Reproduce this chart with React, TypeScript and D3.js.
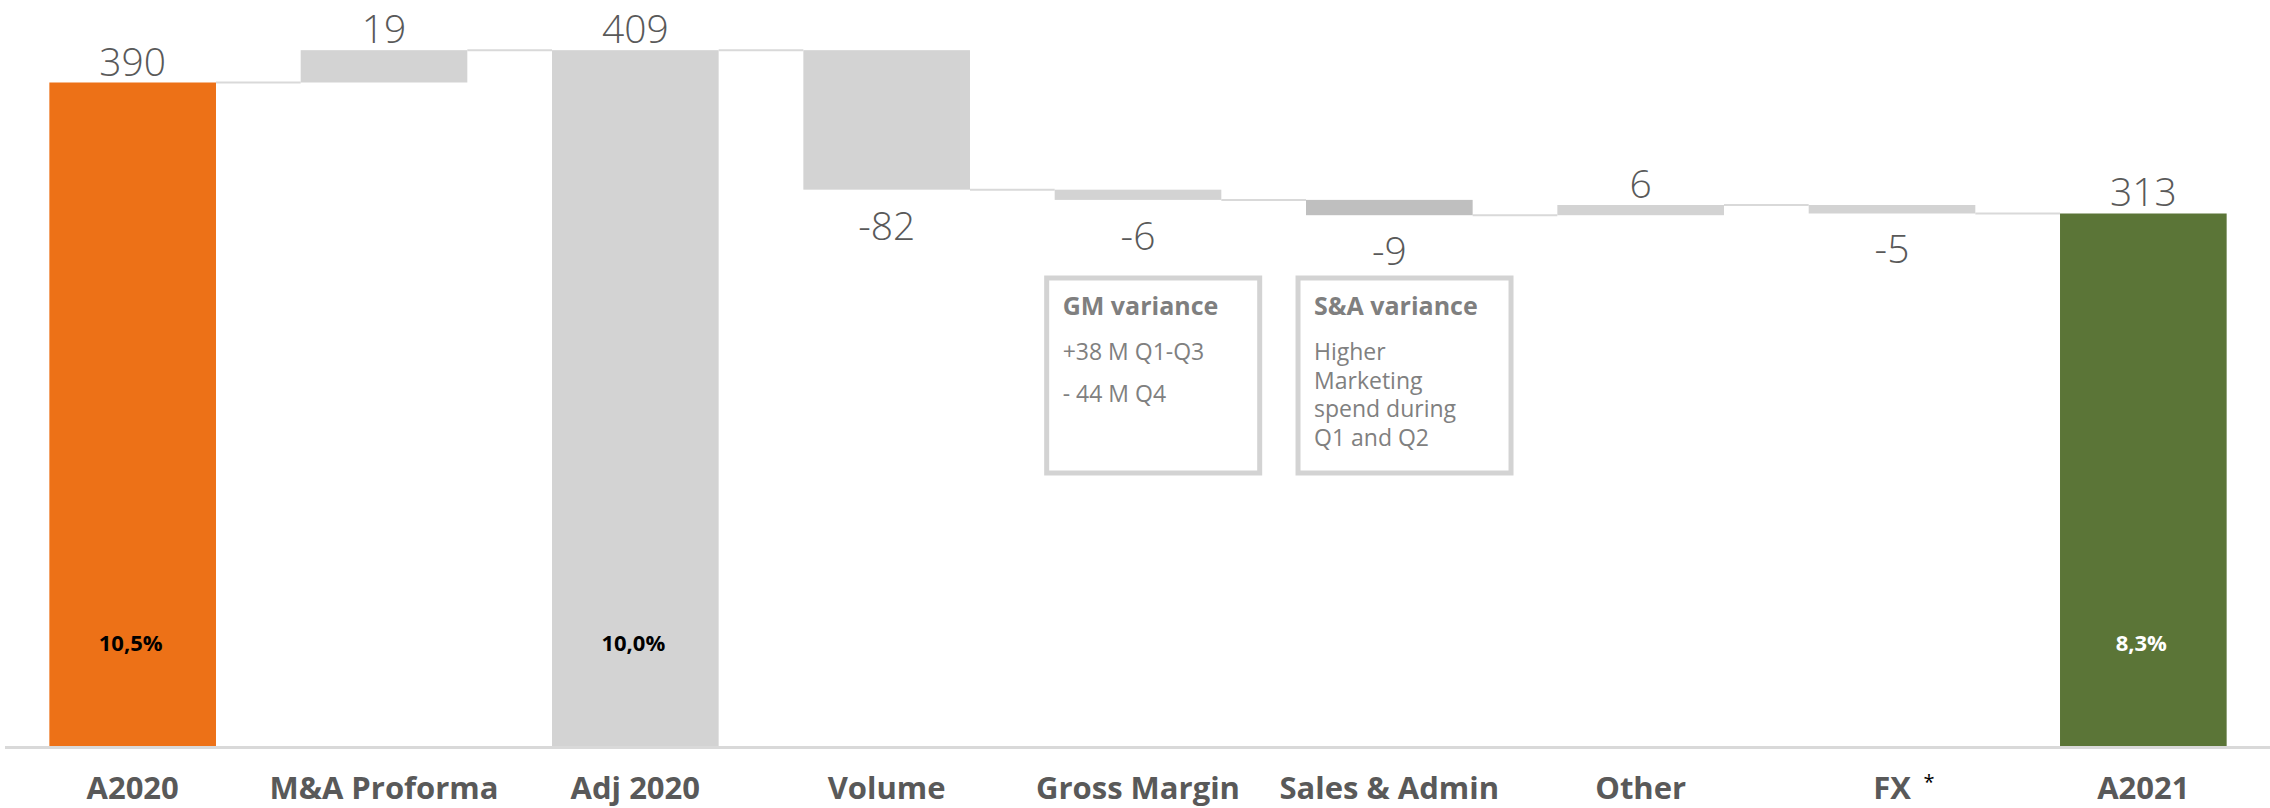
import React from "react";
import * as d3 from "d3";

const categories = ["A2020", "M&A Proforma", "Adj 2020", "Volume", "Gross Margin", "Sales & Admin", "Other", "FX", "A2021"];
const values = [390, 19, 409, -82, -6, -9, 6, -5, 313];
const kinds = ["total", "delta", "total", "delta", "delta", "delta", "delta", "delta", "total"];
const marginLabels = ["10,5%", "", "10,0%", "", "", "", "", "", "8,3%"];
const footnoteMarks = ["", "", "", "", "", "", "", "*", ""];
const noteTitles = ["GM variance", "S&A variance"];
const noteLines = [["+38 M Q1-Q3", "- 44 M Q4"], ["Higher", "Marketing", "spend during", "Q1 and Q2"]];
const noteCategories = ["Gross Margin", "Sales & Admin"];

const W = 2270;
const H = 808;
const fillFor = (i: number) => {
  if (i === 0) return "#ED7117";
  if (i === categories.length - 1) return "#5B7537";
  if (categories[i] === "Sales & Admin") return "#BFBFBF";
  return "#D3D3D3";
};
const marginColor = (i: number) => (i === categories.length - 1 ? "#FFFFFF" : "#000000");

export default function App() {
  const x = d3.scaleBand<string>().domain(categories).range([7, 2269]).paddingInner(0.337).paddingOuter(0.1685);
  const y = d3.scaleLinear().domain([0, 390]).range([746, 82.5]);
  const bw = x.bandwidth();

  let running = 0;
  const bars = categories.map((c, i) => {
    let start: number, end: number;
    if (kinds[i] === "total") {
      start = 0;
      end = values[i];
    } else {
      start = running;
      end = running + values[i];
    }
    running = end;
    return { c, i, start, end, v: values[i] };
  });

  const font = "'Open Sans', 'Noto Sans', sans-serif";

  return (
    <svg width={W} height={H} style={{ display: "block", position: "absolute", left: 0, top: 0, background: "#fff" }}>
      {/* baseline */}
      <line x1={5} x2={W} y1={y(0) + 1.5} y2={y(0) + 1.5} stroke="#D9D9D9" strokeWidth={3} />
      {/* connectors */}
      {bars.slice(0, -1).map((b, k) => {
        const nxt = bars[k + 1];
        const yy = y(b.end);
        return (
          <line key={"c" + k} x1={(x(b.c) as number) + bw} x2={x(nxt.c) as number} y1={yy} y2={yy} stroke="#D9D9D9" strokeWidth={2} />
        );
      })}
      {/* bars */}
      {bars.map((b) => {
        const top = y(Math.max(b.start, b.end));
        const bot = y(Math.min(b.start, b.end));
        return <rect key={"b" + b.i} x={x(b.c)} y={top} width={bw} height={bot - top} fill={fillFor(b.i)} />;
      })}
      {/* value labels */}
      {bars.map((b) => {
        const cx = (x(b.c) as number) + bw / 2;
        const neg = b.v < 0;
        const yy = neg ? y(Math.min(b.start, b.end)) + 50 : y(Math.max(b.start, b.end)) - 7;
        return (
          <text key={"v" + b.i} x={cx} y={yy} textAnchor="middle" fontFamily={font} fontWeight={300} fontSize={39} fill="#595959">
            {String(b.v)}
          </text>
        );
      })}
      {/* margin labels */}
      {bars.map((b) =>
        marginLabels[b.i] ? (
          <text key={"m" + b.i} x={(x(b.c) as number) + bw / 2 - 2} y={651} textAnchor="middle" fontFamily={font} fontWeight={700} fontSize={22} fill={marginColor(b.i)}>
            {marginLabels[b.i]}
          </text>
        ) : null
      )}
      {/* category labels */}
      {bars.map((b) => (
        <g key={"l" + b.i}>
          <text x={(x(b.c) as number) + bw / 2} y={799} textAnchor="middle" fontFamily={font} fontWeight={700} fontSize={31} fill="#595959">
            {b.c}
          </text>
          {footnoteMarks[b.i] ? (
            <text x={(x(b.c) as number) + bw / 2 + 37} y={789} textAnchor="middle" fontFamily={font} fontSize={20} fill="#000">
              {footnoteMarks[b.i]}
            </text>
          ) : null}
        </g>
      ))}
      {/* notes */}
      {noteCategories.map((nc, k) => {
        const bx = (x(nc) as number) - 8;
        const lines = noteLines[k];
        const tight = lines.length > 2;
        return (
          <g key={"n" + k}>
            <rect x={bx} y={278} width={213} height={195} fill="#fff" stroke="#D3D3D3" strokeWidth={5} />
            <text x={bx + 16} y={315} fontFamily={font} fontWeight={700} fontSize={25} fill="#7F7F7F">
              {noteTitles[k]}
            </text>
            {lines.map((ln, j) => (
              <text key={j} x={bx + 16} y={360 + j * (tight ? 28.5 : 41.5)} fontFamily={font} fontSize={23} fill="#808080">
                {ln}
              </text>
            ))}
          </g>
        );
      })}
    </svg>
  );
}
